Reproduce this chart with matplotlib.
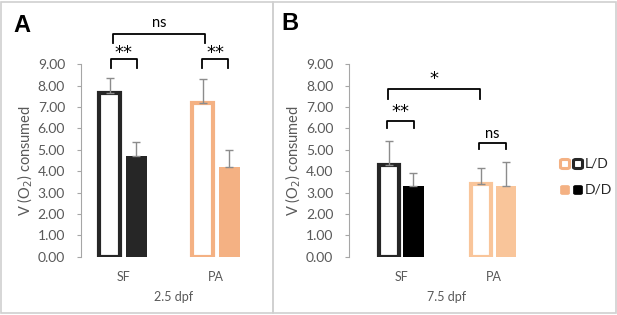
import numpy as np
import matplotlib.pyplot as plt
from matplotlib.patches import Rectangle, FancyBboxPatch

plt.rcParams['font.family'] = ['Lato', 'DejaVu Sans']

# data ---------------------------------------------------------------
groups = ['SF', 'PA']
ld_a = [7.65, 7.18]
ld_a_err = [0.72, 1.12]
dd_a = [4.72, 4.18]
dd_a_err = [0.66, 0.82]

ld_b = [4.30, 3.41]
ld_b_err = [1.13, 0.75]
dd_b = [3.29, 3.32]
dd_b_err = [0.62, 1.11]

stage_labels = ['2.5 dpf', '7.5 dpf']
y_ticks = np.arange(0, 10, 1.0)

# style --------------------------------------------------------------
W, H = 617, 315
dark_a, dark_b = '#262626', '#000000'
orange_a, orange_b = '#F4B183', '#F9C59A'
grey_txt = '#595959'
err_col = '#8c8c8c'

fig = plt.figure(figsize=(W / 100, H / 100), dpi=100)


def px_axes(left, bottom_px, top_px, width):
    return fig.add_axes([left / W, (H - bottom_px) / H, width / W, (bottom_px - top_px) / H])


def draw_panel(ax, ld, ld_err, dd, dd_err, cols_ld, cols_dd, off, bw, xlim, xlabel):
    x = np.arange(len(groups))
    for i in range(len(groups)):
        ax.bar(x[i] - off, ld[i], bw, facecolor='white', edgecolor=cols_ld[i],
               linewidth=3.0, zorder=2)
        ax.bar(x[i] + off, dd[i], bw, color=cols_dd[i], zorder=2)
        ax.errorbar(x[i] - off, ld[i], yerr=[[0], [ld_err[i]]], color=err_col,
                    lw=1, capsize=3, capthick=1, zorder=3)
        ax.errorbar(x[i] + off, dd[i], yerr=[[0], [dd_err[i]]], color=err_col,
                    lw=1, capsize=3, capthick=1, zorder=3)
    ax.set_ylim(0, 9)
    ax.set_xlim(*xlim)
    ax.set_yticks(y_ticks)
    ax.set_yticklabels(['%.2f' % v for v in y_ticks])
    ax.set_xticks(x)
    ax.set_xticklabels(groups)
    ax.tick_params(axis='x', length=0, pad=10, labelsize=9, labelcolor=grey_txt)
    ax.tick_params(axis='y', length=3, color='#a6a6a6', pad=8.5, labelsize=10,
                   labelcolor=grey_txt)
    for s in ['top', 'right', 'bottom']:
        ax.spines[s].set_visible(False)
    ax.spines['left'].set_color('#a6a6a6')
    ax.set_xlabel(xlabel, color=grey_txt, fontsize=9, labelpad=6)
    ax.set_ylabel('V (O$_2$) consumed', color=grey_txt, fontsize=10.5, labelpad=2)
    ax.patch.set_alpha(0)


def bracket(ax, x0, x1, top, leg, label, ty, size=12, family=None):
    ax.plot([x0, x0, x1, x1], [leg, top, top, leg], color='black', lw=1.3,
            clip_on=False, zorder=4)
    ax.text((x0 + x1) / 2, ty, label, ha='center', va='center', fontsize=size,
            color='black', clip_on=False, family=family)


star_font = ['DejaVu Sans']

# panel A ------------------------------------------------------------
ax_a = px_axes(81, 256.7, 64.3, 186)
draw_panel(ax_a, ld_a, ld_a_err, dd_a, dd_a_err, [dark_a, orange_a], [dark_a, orange_a],
           0.1425, 0.225, (-0.452, 1.548), stage_labels[0])
bracket(ax_a, -0.13, 0.15, 9.23, 8.84, '**', 9.55, 13, star_font)
bracket(ax_a, 0.85, 1.13, 9.23, 8.84, '**', 9.55, 13, star_font)
bracket(ax_a, -0.11, 0.88, 10.42, 10.0, 'ns', 10.95, 10.5)

# panel B ------------------------------------------------------------
ax_b = px_axes(349.3, 256.7, 64.3, 195)
draw_panel(ax_b, ld_b, ld_b_err, dd_b, dd_b_err, [dark_a, orange_b], [dark_b, orange_b],
           0.133, 0.22, (-0.562, 1.55), stage_labels[1])
bracket(ax_b, -0.144, 0.85, 7.84, 7.39, '*', 8.3, 13, star_font)
bracket(ax_b, -0.155, 0.137, 6.35, 6.03, '**', 6.75, 13, star_font)
bracket(ax_b, 0.84, 1.13, 5.33, 5.04, 'ns', 5.72, 10.5)

# panel frames and letters -------------------------------------------
for x0, x1 in [(1, 273), (273, 616)]:
    fig.patches.append(Rectangle((x0 / W, 2 / H), (x1 - x0) / W, (H - 4) / H,
                                 transform=fig.transFigure, fill=False,
                                 edgecolor='#d0d0d0', lw=1.2))
fig.text(22 / W, 1 - 26 / H, 'A', fontsize=17, fontweight='bold',
         family='Liberation Sans', ha='center', va='center')
fig.text(290 / W, 1 - 24 / H, 'B', fontsize=17, fontweight='bold',
         family='Liberation Sans', ha='center', va='center')


# legend -------------------------------------------------------------
def sq(xc, yc, face, edge, lw):
    s = 9
    fig.patches.append(FancyBboxPatch(((xc - s / 2) / W, 1 - (yc + s / 2) / H), s / W, s / H,
                                      boxstyle='round,pad=0,rounding_size=0.004',
                                      transform=fig.transFigure, facecolor=face,
                                      edgecolor=edge, lw=lw))


sq(565, 164, 'white', orange_a, 2.2)
sq(578, 164, 'white', dark_a, 2.2)
sq(565, 190, orange_a, orange_a, 0.5)
sq(578, 190, dark_b, dark_b, 0.5)
fig.text(584.5 / W, 1 - 164 / H, 'L/D', fontsize=10, ha='left', va='center', color='#262626')
fig.text(584.5 / W, 1 - 190 / H, 'D/D', fontsize=10, ha='left', va='center', color='#262626')

fig.savefig('out.png', dpi=100)
